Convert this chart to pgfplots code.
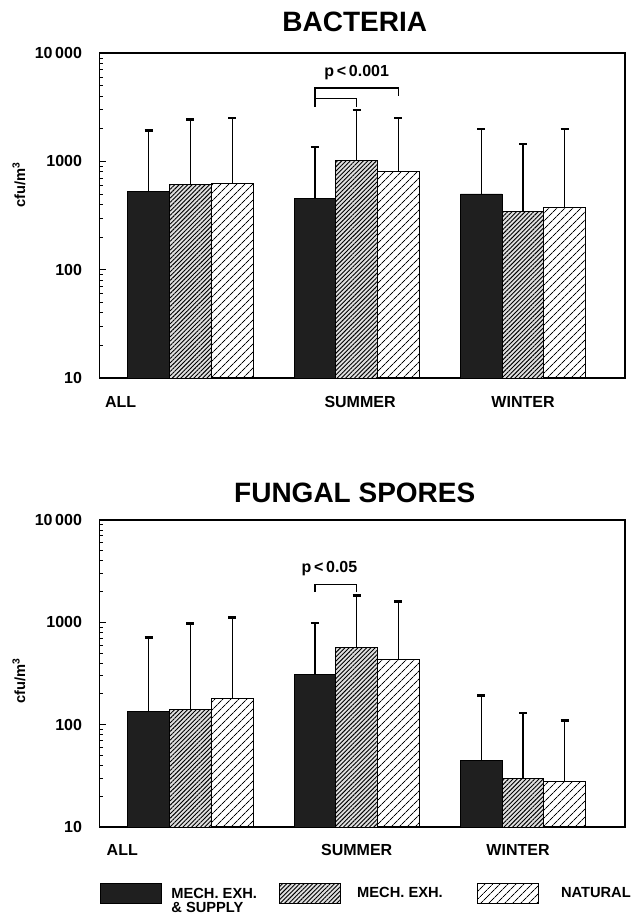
\documentclass[border=0pt]{standalone}
\usepackage{pgfplots}
\pgfplotsset{compat=1.18}
\usepackage{fontspec}
\setmainfont{Liberation Sans}
\usetikzlibrary{patterns.meta}

\tikzset{
  bardark/.style={draw=black, line width=0.6pt, fill=black!88},
  barmed/.style={draw=black, line width=0.6pt, preaction={fill=black!12}, pattern={Lines[angle=45,distance=2.3pt,line width=0.7pt]}},
  barlight/.style={draw=black, line width=0.6pt, pattern={Lines[angle=45,distance=4pt,line width=0.7pt]}},
}
\pgfplotsset{
  swatch/.style={legend image code/.code={\draw[##1] (0pt,-7.5pt) rectangle (45.75pt,7.5pt); \path (53.25pt,0pt);}},
  ebar/.style={error bars/.cd, y dir=plus, y explicit, error bar style={black, line width=0.8pt}, error mark options={rotate=90, black, mark size=3pt, line width=1.8pt}},
}

\begin{document}
\begin{tikzpicture}
\path[use as bounding box] (0pt,0pt) rectangle (477pt,-689.25pt);

% ---------------- BACTERIA ----------------
\begin{axis}[
  scale only axis,
  width=394.2pt, height=243.75pt,
  at={(74.5pt,-39.75pt)}, anchor=north west,
  ymode=log, ymin=10, ymax=10000,
  log origin y=infty,
  xmin=-0.548, xmax=2.613,
  ybar=0pt, bar width=0.251,
  xtick={-0.42,1.02,2.0}, xticklabels={ALL,SUMMER,WINTER},
  x tick style={draw=none},
  xticklabel style={font=\fontsize{12}{14}\selectfont\bfseries, anchor=base, yshift=-22pt},
  ytick={10,100,1000,10000},
  yticklabels={10,100,1000,10\,000},
  yticklabel style={font=\fontsize{12}{14}\selectfont\bfseries, xshift=-9.5pt},
  ytick pos=left, tick align=inside,
  major tick length=5pt, minor tick length=3pt,
  y tick style={black, line width=0.6pt},
  axis line style={line width=1pt},
  ylabel={cfu/m\textsuperscript{3}},
  ylabel style={font=\fontsize{11}{13}\selectfont\bfseries, at={(axis description cs:-0.153,0.594)}, anchor=center},
  title={BACTERIA},
  title style={font=\fontsize{21}{25}\selectfont\bfseries, at={(0.486,1)}, anchor=base, yshift=10pt},
]
\addplot[bardark, ebar]
  coordinates {(0,530) +- (0,1400) (1,450) +- (0,910) (2,500) +- (0,1490)};
\addplot[barmed, ebar]
  coordinates {(0,610) +- (0,1820) (1,1020) +- (0,1940) (2,345) +- (0,1105)};
\addplot[barlight, ebar]
  coordinates {(0,630) +- (0,1880) (1,810) +- (0,1700) (2,375) +- (0,1615)};
\draw[line width=0.8pt] (axis cs:0.749,3180) |- (axis cs:1.251,4750) -- (axis cs:1.251,3980);
\draw[line width=0.8pt] (axis cs:0.749,3790) -- (axis cs:1.0,3790) -- (axis cs:1.0,3180);
\node[font=\fontsize{12}{14}\selectfont\bfseries] at (axis cs:1.0,6530) {p\,<\,0.001};
\end{axis}

% ---------------- FUNGAL SPORES ----------------
\begin{axis}[
  scale only axis,
  width=394.2pt, height=230.25pt,
  at={(74.5pt,-390pt)}, anchor=north west,
  ymode=log, ymin=10, ymax=10000,
  log origin y=infty,
  xmin=-0.548, xmax=2.613,
  ybar=0pt, bar width=0.251,
  every axis plot post/.append style={swatch},
  xtick={-0.41,1.0,1.97}, xticklabels={ALL,SUMMER,WINTER},
  x tick style={draw=none},
  xticklabel style={font=\fontsize{12}{14}\selectfont\bfseries, anchor=base, yshift=-21pt},
  ytick={10,100,1000,10000},
  yticklabels={10,100,1000,10\,000},
  yticklabel style={font=\fontsize{12}{14}\selectfont\bfseries, xshift=-9.5pt},
  ytick pos=left, tick align=inside,
  major tick length=5pt, minor tick length=3pt,
  y tick style={black, line width=0.6pt},
  axis line style={line width=1pt},
  ylabel={cfu/m\textsuperscript{3}},
  ylabel style={font=\fontsize{11}{13}\selectfont\bfseries, at={(axis description cs:-0.153,0.477)}, anchor=center},
  title={FUNGAL SPORES},
  title style={font=\fontsize{21}{25}\selectfont\bfseries, at={(0.486,1)}, anchor=base, yshift=7pt},
  legend columns=3,
  legend style={draw=none, fill=none, inner sep=0pt, column sep=0pt,
    at={(0,0)}, anchor=west, yshift=-49.5pt,
    nodes={inner sep=0pt, anchor=west},
    font=\fontsize{11}{13}\selectfont\bfseries},
]
\addplot[bardark, ebar]
  coordinates {(0,135) +- (0,576) (1,310) +- (0,674) (2,44.6) +- (0,148.4)};
\addlegendentry{\makebox[81pt][l]{\raisebox{0pt}[\height][0pt]{\begin{tabular}[t]{@{}l@{}}MECH. EXH.\\[-2pt]\& SUPPLY\end{tabular}}}}
\addplot[barmed, ebar]
  coordinates {(0,140) +- (0,837) (1,564) +- (0,1264) (2,29.9) +- (0,100.1)};
\addlegendentry{\makebox[94.5pt][l]{\hspace{4.5pt}MECH. EXH.}}
\addplot[barlight, ebar]
  coordinates {(0,179) +- (0,933) (1,436) +- (0,1161) (2,28.1) +- (0,81.9)};
\addlegendentry{\hspace{9pt}NATURAL}
\draw[line width=0.8pt] (axis cs:0.749,1972) |- (axis cs:1.0,2344) -- (axis cs:1.0,1972);
\node[font=\fontsize{12}{14}\selectfont\bfseries] at (axis cs:0.836,3350) {p\,<\,0.05};
\end{axis}
\end{tikzpicture}
\end{document}
